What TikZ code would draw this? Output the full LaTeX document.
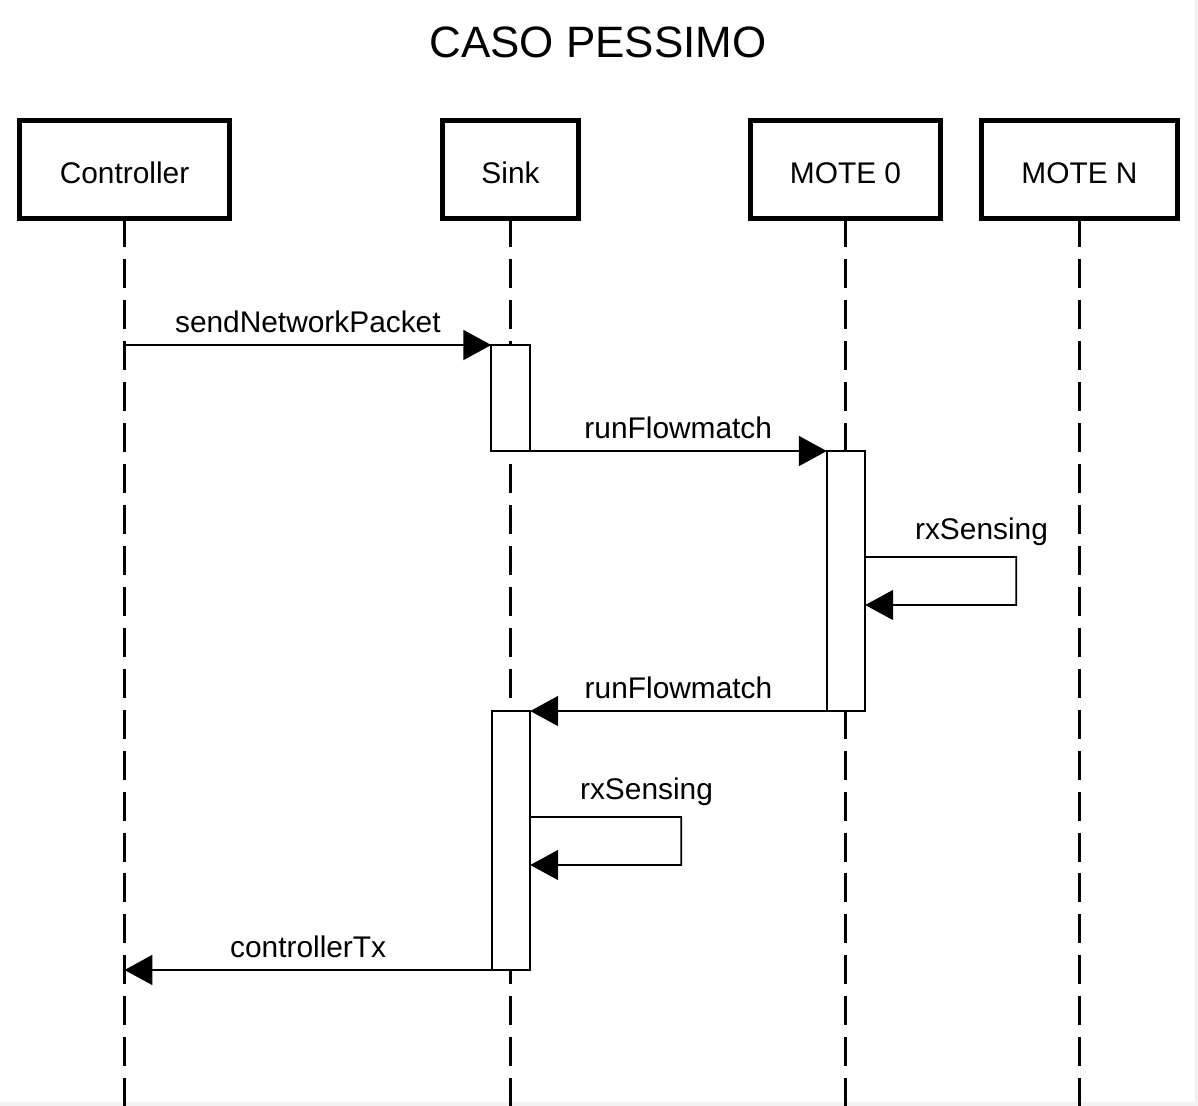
\documentclass[tikz,border=0pt]{standalone}
\usepackage{fontspec}
\setmainfont{Liberation Sans}
\usetikzlibrary{arrows.meta,positioning,calc}
\definecolor{sgrey}{HTML}{F2F2F2}

\begin{document}
\begin{tikzpicture}[x=0.02cm,y=-0.02cm,
  every node/.style={font=\fontsize{17}{20}\selectfont},
  actor/.style={draw,line width=2.6pt,fill=white,minimum height=1.96cm,inner sep=0pt,outer sep=0pt,
    text height=15.6pt,text depth=0pt},
  life/.style={line width=1.3pt,dash pattern=on 16.5pt off 6.8pt},
  act/.style={draw,line width=1.1pt,fill=white,minimum width=0.77cm,inner sep=0pt,outer sep=0pt},
  msg/.style={line width=1.1pt,-{Triangle[length=0.56cm,width=0.6cm]}},
  lbl/.style={midway,yshift=0.46cm}]
  \useasboundingbox (0,0) rectangle (1198,1106);
  \fill[sgrey] (0,0) rectangle (1198,1106);
  \fill[white] (0,0) rectangle (1195,1102);

  \node[font=\fontsize{25}{30}\selectfont] (title) at (598,42) {CASO PESSIMO};

  % participants
  \node[actor,minimum width=4.2cm] (ctrl) at (124.5,169.5) {Controller};
  \node[actor,minimum width=2.72cm] (sink) at (510.5,169.5) {Sink};
  \node[actor,minimum width=3.8cm] (mote0) at (845.5,169.5) {MOTE 0};
  \node[actor,minimum width=3.92cm] (moteN) at (1079.5,169.5) {MOTE N};

  % lifelines
  \coordinate (bottom) at (0,1106);
  \foreach \p in {ctrl,sink,mote0,moteN}
    \draw[life] (\p.south) -- (\p.south |- bottom);

  % activations
  \node[act,minimum height=2.12cm] (sinkA) at (510.5,398) {};
  \node[act,minimum height=5.2cm] (mote0A) at (846,581) {};
  \node[act,minimum height=5.18cm] (sinkB) at (511,840.5) {};

  % messages
  \draw[msg] (ctrl |- sinkA.north west) -- node[lbl]{sendNetworkPacket} (sinkA.north west);
  \draw[msg] (sinkA.south east) -- node[lbl]{runFlowmatch} (mote0A.north west);
  \draw[msg] ([yshift=-2.12cm]mote0A.north east) -- ++(151,0) node[pos=0.77,yshift=0.5cm]{rxSensing}
    -- ++(0,48) -- ([yshift=-3.08cm]mote0A.north east);
  \draw[msg] (mote0A.south west) -- node[lbl]{runFlowmatch} (sinkB.north east);
  \draw[msg] ([yshift=-2.12cm]sinkB.north east) -- ++(151,0) node[pos=0.77,yshift=0.5cm]{rxSensing}
    -- ++(0,48) -- ([yshift=-3.08cm]sinkB.north east);
  \draw[msg] (sinkB.south west) -- node[lbl]{controllerTx} (ctrl |- sinkB.south west);
\end{tikzpicture}
\end{document}
